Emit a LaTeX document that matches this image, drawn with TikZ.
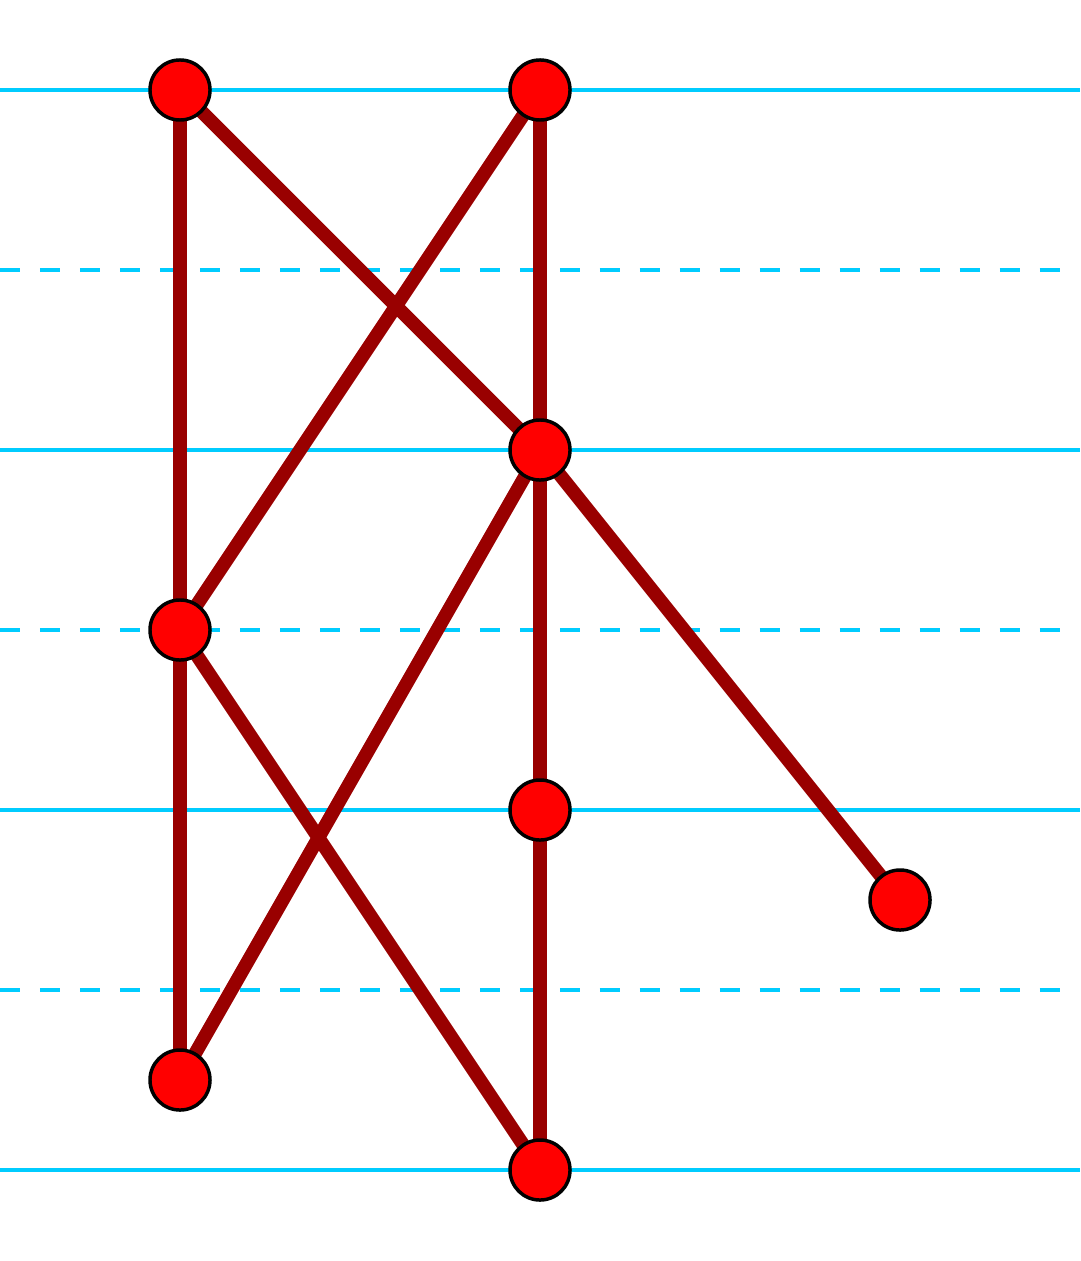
\documentclass[tikz,border=0pt]{standalone}
\definecolor{gridblue}{HTML}{00CCFF}
\definecolor{edgered}{HTML}{990000}
\tikzset{
	vertex/.style={circle,draw=black,line width=1.1pt,fill=red,inner sep=0pt,minimum size=0.667cm},
	edge/.style={draw=edgered,line width=4.3pt},
	level/.style={draw=gridblue,line width=1.4pt},
	half/.style={level,dash pattern=on 6.32pt off 6.32pt}
}
\begin{document}
\begin{tikzpicture}[line join=round]
	\useasboundingbox (0,-14.011) rectangle (12,0);
	\foreach \y in {1,5,9,13} \draw[level] (0,-\y)--(12,-\y);
	\foreach \y in {3,7,11} \draw[half] (0,-\y)--(11.78,-\y);
	\path 
	(2,-1) coordinate (A)
	(6,-1) coordinate (B)
	(6,-5) coordinate (C)
	(2,-7) coordinate (D)
	(6,-9) coordinate (E)
	(10,-10) coordinate (F)
	(2,-12) coordinate (G)
	(6,-13) coordinate (H)
	;
	\draw[edge] (A)--(D)--(G) (A)--(C) (B)--(D) (B)--(C)--(E)--(H) (C)--(G) (C)--(F) (D)--(H);
	\foreach \p in {A,B,C,D,E,F,G,H} \node[vertex] (n\p) at (\p) {};
\end{tikzpicture}
\end{document}
